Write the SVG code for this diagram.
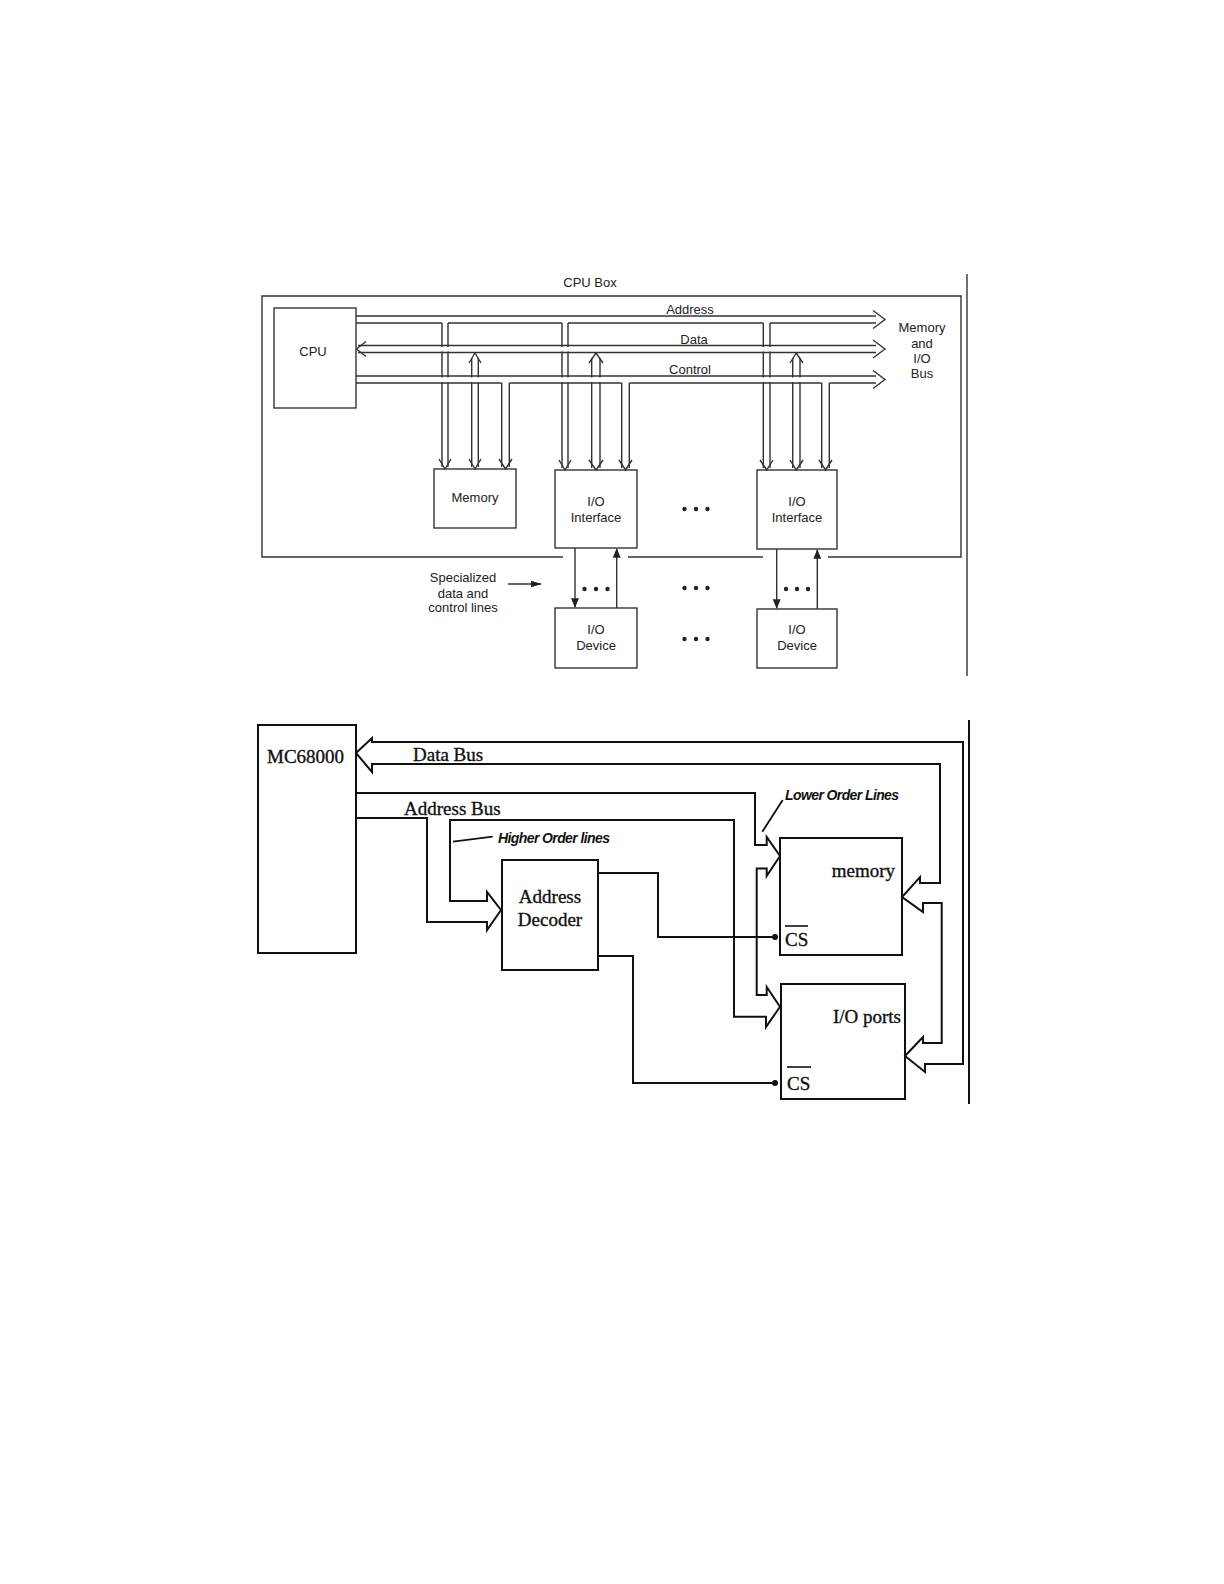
<svg xmlns="http://www.w3.org/2000/svg" width="1224" height="1584" viewBox="0 0 1224 1584">
<style>
.t{font-family:"Liberation Sans",Arial,sans-serif;font-size:13px;fill:#222;text-anchor:middle}
.s{font-family:"Liberation Serif","Times New Roman",serif;font-size:19px;fill:#111;stroke:#111;stroke-width:0.35}
.i{font-family:"Liberation Sans",Arial,sans-serif;font-size:14px;font-weight:bold;font-style:italic;fill:#111;letter-spacing:-0.6px}
.l{fill:none;stroke:#333;stroke-width:1.4}
.b{fill:none;stroke:#111;stroke-width:2}
.w{fill:#fff;stroke:none}
</style>
<defs>
<marker id="ah" viewBox="0 0 10 10" refX="9" refY="5" markerWidth="7" markerHeight="7" orient="auto"><path d="M0,1 L10,5 L0,9 z" fill="#222"/></marker>
<marker id="sa" viewBox="0 0 10 10" refX="9" refY="5" markerWidth="8" markerHeight="8" orient="auto"><path d="M0,2 L10,5 L0,8 z" fill="#222"/></marker>
</defs>

<!-- ===== Top diagram ===== -->
<g id="cpu-box-frame">
<path class="l" d="M563,557 L262,557 L262,296 L961,296 L961,557 L828,557 M763,557 L628,557"/>
<text class="t" x="590" y="286.5">CPU Box</text>
<line class="l" x1="967" y1="274" x2="967" y2="676"/>
</g>

<g id="top-connectors">
<g class="l">
<path d="M442,323 V467 M448,323 V467"/>
<path d="M471.7,358 V467 M478.3,358 V467"/>
<path d="M501.7,383 V467 M509.3,383 V467"/>
<path d="M562,323 V468 M568,323 V468"/>
<path d="M591.7,358 V468 M600,358 V468"/>
<path d="M621.7,383 V468 M629.3,383 V468"/>
<path d="M763.3,323 V468 M770,323 V468"/>
<path d="M792.7,358 V468 M800,358 V468"/>
<path d="M821.7,383 V468 M829.3,383 V468"/>
<path d="M439,459 L445,469 L451,459"/>
<path d="M469,459 L475,469 L481,459"/>
<path d="M499,459 L505.5,469 L512,459"/>
<path d="M559,460 L565,470 L571,460"/>
<path d="M589,460 L596,470 L603,460"/>
<path d="M619,460 L625.5,470 L632,460"/>
<path d="M760,460 L766.7,470 L773,460"/>
<path d="M790,460 L796.3,470 L803,460"/>
<path d="M819,460 L825.5,470 L832,460"/>
<path d="M469,363 L475,353 L481,363"/>
<path d="M589,363 L596,353 L603,363"/>
<path d="M790,363 L796.3,353 L803,363"/>
</g>
<rect class="w" x="357" y="347" width="518" height="4.5"/>
<rect class="w" x="357" y="377.5" width="518" height="4.5"/>
<g class="l">
<path d="M356,316 H876 M356,323 H442 M448,323 H562 M568,323 H763.3 M770,323 H876"/>
<path d="M873,310.5 L885,319.5 L873,328.5"/>
<path d="M358,345.5 H876 M358,352.5 H876"/>
<path d="M873,340 L885,349 L873,358"/>
<path d="M366,341.5 L356.5,349 L366,356.5"/>
<path d="M356,376 H876 M356,383 H501.7 M509.3,383 H621.7 M629.3,383 H821.7 M829.3,383 H876"/>
<path d="M873,370.5 L885,379.5 L873,388.5"/>
</g>
<text class="t" x="690" y="313.5">Address</text>
<text class="t" x="694" y="343.5">Data</text>
<text class="t" x="690" y="373.5">Control</text>
<line class="l" x1="575" y1="548" x2="575" y2="607" marker-end="url(#ah)"/>
<line class="l" x1="616.7" y1="608" x2="616.7" y2="549" marker-end="url(#ah)"/>
<line class="l" x1="776.7" y1="549" x2="776.7" y2="608" marker-end="url(#ah)"/>
<line class="l" x1="817.3" y1="609" x2="817.3" y2="550" marker-end="url(#ah)"/>
<line class="l" x1="508" y1="584" x2="541" y2="584" marker-end="url(#sa)"/>
</g>
<g id="bus-label">
<text class="t" x="922" y="331.5">Memory</text>
<text class="t" x="922" y="347.5">and</text>
<text class="t" x="922" y="362.5">I/O</text>
<text class="t" x="922" y="377.5">Bus</text>
</g>

<g id="cpu"><rect class="l" x="274" y="308" width="82" height="100"/><text class="t" x="313" y="355.5">CPU</text></g>
<g id="memory-top"><rect class="l" x="434" y="469" width="82" height="59"/><text class="t" x="475" y="501.5">Memory</text></g>
<g id="io-interface-1"><rect class="l" x="555" y="470" width="82" height="78"/><text class="t" x="596" y="505.5">I/O</text><text class="t" x="596" y="521.5">Interface</text></g>
<g id="io-interface-2"><rect class="l" x="757" y="470" width="80" height="79"/><text class="t" x="797" y="505.5">I/O</text><text class="t" x="797" y="521.5">Interface</text></g>
<g id="io-device-1"><rect class="l" x="555" y="608" width="82" height="60"/><text class="t" x="596" y="633.5">I/O</text><text class="t" x="596" y="649.5">Device</text></g>
<g id="io-device-2"><rect class="l" x="757" y="609" width="80" height="59"/><text class="t" x="797" y="633.5">I/O</text><text class="t" x="797" y="649.5">Device</text></g>
<g id="specialized-label">
<text class="t" x="463" y="581.5">Specialized</text>
<text class="t" x="463" y="597.5">data and</text>
<text class="t" x="463" y="611.5">control lines</text>
</g>
<g id="ellipses" fill="#222">
<circle cx="684.5" cy="509" r="2.2"/><circle cx="696" cy="509" r="2.2"/><circle cx="707.5" cy="509" r="2.2"/>
<circle cx="684.5" cy="588" r="2.2"/><circle cx="696" cy="588" r="2.2"/><circle cx="707.5" cy="588" r="2.2"/>
<circle cx="684.5" cy="639" r="2.2"/><circle cx="696" cy="639" r="2.2"/><circle cx="707.5" cy="639" r="2.2"/>
<circle cx="584.5" cy="589" r="2.2"/><circle cx="596" cy="589" r="2.2"/><circle cx="607.5" cy="589" r="2.2"/>
<circle cx="786" cy="589" r="2.2"/><circle cx="797" cy="589" r="2.2"/><circle cx="808" cy="589" r="2.2"/>
</g>

<!-- ===== Bottom diagram ===== -->
<line class="b" x1="969" y1="720" x2="969" y2="1104"/>
<g id="bottom-connectors">
<path class="b" d="M356,753 L372,738 L372,742 L963,742 L963,1064 L925,1064 L925,1072 L905,1056 L923,1037 L923,1043 L941.7,1043 L941.7,903 L923,903 L923,912 L902,897 L920,877 L920,883 L940,883 L940,764 L372,764 L372,772 Z"/>
<path class="b" d="M356,793 L755,793 L755,845 L766.7,845 L766.7,837 L780,856 L766.7,876 L766.7,868.5 L756.7,868.5 L756.7,995 L766.7,995 L766.7,987 L780,1006.7 L766,1027 L766,1016.7 L734,1016.7 L734,820 L450,820 L450,901 L487,901 L487,892 L501,910 L487,930 L487,922 L427,922 L427,818 L356,818"/>
<path class="b" d="M598,873 L658,873 L658,937 L772,937"/>
<path class="b" d="M598,956 L633,956 L633,1083 L772,1083"/>
<circle cx="775" cy="937" r="3" fill="#111"/>
<circle cx="775" cy="1083" r="3" fill="#111"/>
<line x1="453" y1="841.7" x2="492.7" y2="836.7" stroke="#111" stroke-width="1.8"/>
<line x1="782.7" y1="800" x2="762.3" y2="831.7" stroke="#111" stroke-width="1.8"/>
</g>
<text class="s" x="413" y="761">Data Bus</text>
<text class="s" x="404" y="815">Address Bus</text>
<text class="i" x="498" y="843">Higher Order lines</text>
<text class="i" x="785" y="800">Lower Order Lines</text>

<g id="mc68000"><rect class="b" x="258" y="725" width="98" height="228"/><text class="s" x="267" y="763">MC68000</text></g>
<g id="address-decoder"><rect class="b" x="502" y="860" width="96" height="110"/><text class="s" x="550" y="903" text-anchor="middle">Address</text><text class="s" x="550" y="926" text-anchor="middle">Decoder</text></g>
<g id="memory-bottom"><rect class="b" x="780" y="838" width="122" height="117"/><text class="s" x="895" y="877" text-anchor="end">memory</text><text class="s" x="785" y="946">CS</text><line x1="785" y1="926" x2="808" y2="926" stroke="#111" stroke-width="1.6"/></g>
<g id="io-ports"><rect class="b" x="781" y="984" width="124" height="115"/><text class="s" x="901" y="1023" text-anchor="end">I/O ports</text><text class="s" x="787" y="1090">CS</text><line x1="787" y1="1067" x2="811" y2="1067" stroke="#111" stroke-width="1.6"/></g>
</svg>
